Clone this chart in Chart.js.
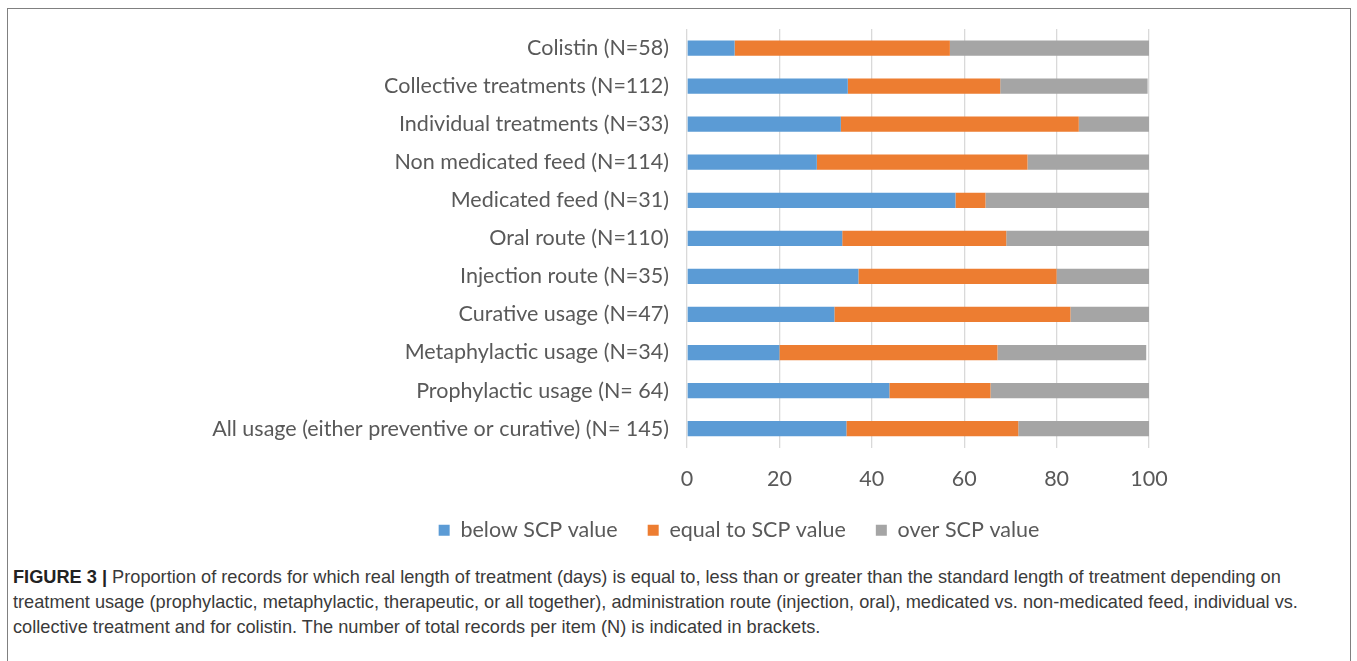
<!DOCTYPE html>
<html>
<head>
<meta charset="utf-8">
<script src="https://cdn.jsdelivr.net/npm/chart.js@4.4.1/dist/chart.umd.min.js"></script>
<style>
  html, body { margin: 0; padding: 0; background: #fff; }
  body { width: 1357px; height: 661px; position: relative; overflow: hidden; }
  .frame {
    position: absolute; left: 7px; top: 8px; width: 1344px; height: 700px;
    border: 1.5px solid #808080; box-sizing: border-box;
  }
  .plot { position: absolute; left: 128px; top: 8px; width: 1222px; height: 552px; }
  .caption {
    position: absolute; left: 13px; top: 565px;
    font-family: "Liberation Sans", Arial, sans-serif; font-size: 18.2px;
    line-height: 25px; color: #3a3a3a; white-space: nowrap;
  }
  .caption b { color: #222; }
</style>
</head>
<body>
<div class="frame"></div>
<div class="plot"><canvas id="chart"></canvas></div>
<div class="caption">
<b>FIGURE 3 |</b> Proportion of records for which real length of treatment (days) is equal to, less than or greater than the standard length of treatment depending on<br>
treatment usage (prophylactic, metaphylactic, therapeutic, or all together), administration route (injection, oral), medicated vs. non-medicated feed, individual vs.<br>
collective treatment and for colistin. The number of total records per item (N) is indicated in brackets.
</div>
<script>
// Items, top to bottom
const categories = [
  "Colistin (N=58)",
  "Collective treatments (N=112)",
  "Individual treatments (N=33)",
  "Non medicated feed (N=114)",
  "Medicated feed (N=31)",
  "Oral route (N=110)",
  "Injection route (N=35)",
  "Curative usage (N=47)",
  "Metaphylactic usage (N=34)",
  "Prophylactic usage (N= 64)",
  "All usage (either preventive or curative) (N= 145)"
];

// Share of records (%) in each class
const belowSCP = [10.3, 34.8, 33.3, 28.1, 58.1, 33.6, 37.1, 31.9, 20.0, 43.8, 34.5];
const equalSCP = [46.6, 33.0, 51.5, 45.6, 6.5, 35.5, 42.9, 51.1, 47.2, 21.9, 37.2];
const overSCP  = [43.1, 31.9, 15.2, 26.3, 35.4, 30.9, 20.0, 17.0, 32.2, 34.3, 28.3];

const seriesNames = ["below SCP value", "equal to SCP value", "over SCP value"];
const xTicks = [0, 20, 40, 60, 80, 100];

const labelFont = { family: "Lato, 'Open Sans', sans-serif", size: 21.5 };
const textColor = "#595959";

// Center the legend on the whole canvas rather than on the padded box
const centerLegend = {
  id: "centerLegend",
  afterLayout(chart) {
    const lg = chart.legend;
    if (!lg) return;
    const dx = chart.width / 2 - (lg.left + lg.right) / 2;
    lg.left += dx;
    lg.right += dx;
  }
};

new Chart(document.getElementById("chart"), {
  type: "bar",
  data: {
    labels: categories,
    datasets: [
      { label: seriesNames[0], data: belowSCP, backgroundColor: "#5B9BD5" },
      { label: seriesNames[1], data: equalSCP, backgroundColor: "#ED7D31" },
      { label: seriesNames[2], data: overSCP,  backgroundColor: "#A5A5A5" }
    ]
  },
  plugins: [centerLegend],
  options: {
    indexAxis: "y",
    responsive: true,
    maintainAspectRatio: false,
    animation: false,
    datasets: { bar: { categoryPercentage: 0.8, barPercentage: 0.5, borderWidth: 0 } },
    layout: { padding: { top: 21, right: 201, left: 0, bottom: 9 } },
    scales: {
      x: {
        stacked: true,
        min: 0, max: 100,
        afterBuildTicks: (scale) => { scale.ticks = xTicks.map(v => ({ value: v })); },
        afterFit: (scale) => { scale.height -= 20; },
        grid: { color: "#d9d9d9", lineWidth: 1.3, drawTicks: false },
        border: { display: false },
        ticks: { color: textColor, font: labelFont, padding: 18 }
      },
      y: {
        stacked: true,
        afterFit: (scale) => { scale.width = 559; scale.paddingTop = 0; },
        grid: { display: false, drawTicks: false },
        border: { display: false },
        ticks: { color: textColor, font: labelFont, padding: 18 }
      }
    },
    plugins: {
      legend: {
        position: "bottom",
        labels: {
          color: textColor, font: labelFont,
          boxWidth: 11, boxHeight: 11, padding: 30
        }
      },
      tooltip: { enabled: false }
    }
  }
});
</script>
</body>
</html>
